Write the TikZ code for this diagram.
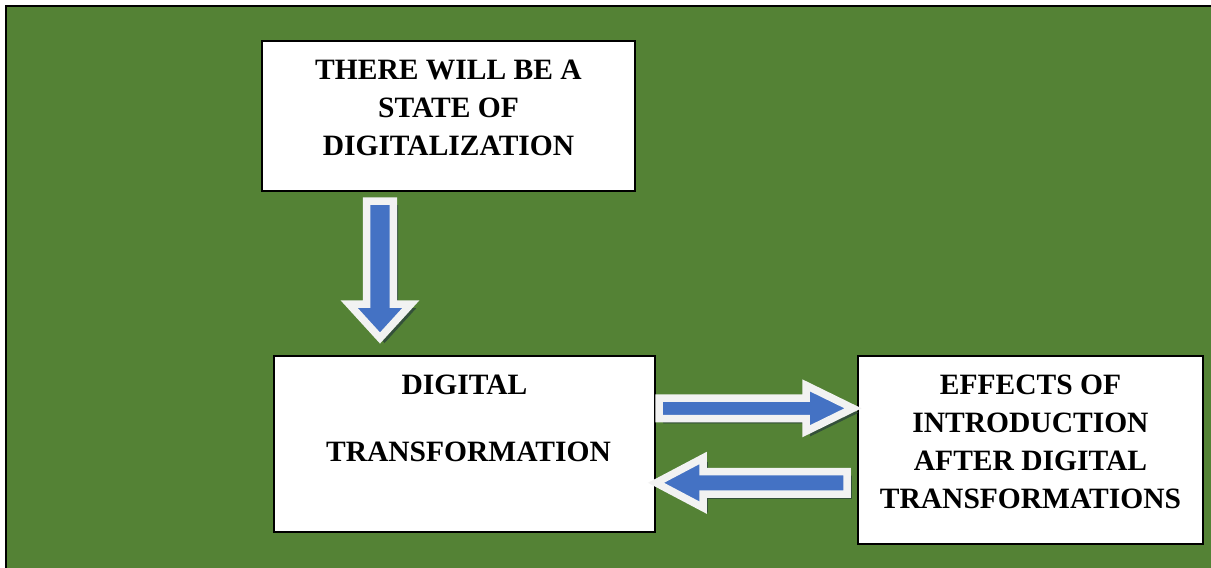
\documentclass[tikz,border=0pt]{standalone}
\usepackage{fontspec}
\setmainfont{Liberation Serif}
\usetikzlibrary{positioning}
\definecolor{panelgreen}{RGB}{84,130,53}
\definecolor{arrowblue}{RGB}{68,114,196}
\definecolor{arrowrim}{RGB}{242,242,242}
\definecolor{arrowshade}{RGB}{52,80,58}
\begin{document}
\begin{tikzpicture}[x=0.02cm, y=-0.02cm,
    box/.style={draw=black, fill=white, line width=0.04cm, inner sep=0pt},
    txt/.style={anchor=north, inner sep=0pt, align=center, font=\fontsize{16.8}{21.6}\selectfont\bfseries},
    blockarrow/.style={line width=0.15cm, line join=miter, draw=arrowrim, fill=arrowblue,
        preaction={draw=arrowshade, fill=arrowshade, transform canvas={shift={(0.09cm,-0.09cm)}}}}
]
    \useasboundingbox (0,0) rectangle (1211,568);
    % --- panel ---
    \draw[line width=0.05cm, fill=panelgreen] (6,6) rectangle (1220,580);

    % --- boxes ---
    \node[box, minimum width=7.46cm, minimum height=3.0cm] (state) at (448.5,116) {};
    \node[txt, below=0.4cm of state.north] (statetxt) {THERE WILL BE A\\ STATE OF\\ DIGITALIZATION};

    \node[box, minimum width=7.62cm, minimum height=3.52cm] (digital) at (464.5,444) {};
    \node[txt, below=0.4cm of digital.north] (digitaltxt) {DIGITAL\\[16.4pt] \hspace*{0.16cm}TRANSFORMATION};

    \node[box, minimum width=6.9cm, minimum height=3.76cm] (effects) at (1030.5,450) {};
    \node[txt, below=0.4cm of effects.north] (effectstxt) {EFFECTS OF\\ INTRODUCTION\\ AFTER DIGITAL\\ TRANSFORMATIONS};

    % --- block arrows ---
    \draw[blockarrow] (366.7,201) -- (393.3,201) -- (393.3,304) -- (411,304) -- (380,338)
        -- (349,304) -- (366.7,304) -- cycle;
    \draw[blockarrow] (659,398) -- (806,398) -- (806,385.3) -- (853,408.3) -- (806,431.3)
        -- (806,418.6) -- (659,418.6) -- cycle;
    \draw[blockarrow] (847,471.5) -- (703,471.5) -- (703,458) -- (656,482.8) -- (703,507.6)
        -- (703,494) -- (847,494) -- cycle;
\end{tikzpicture}
\end{document}
